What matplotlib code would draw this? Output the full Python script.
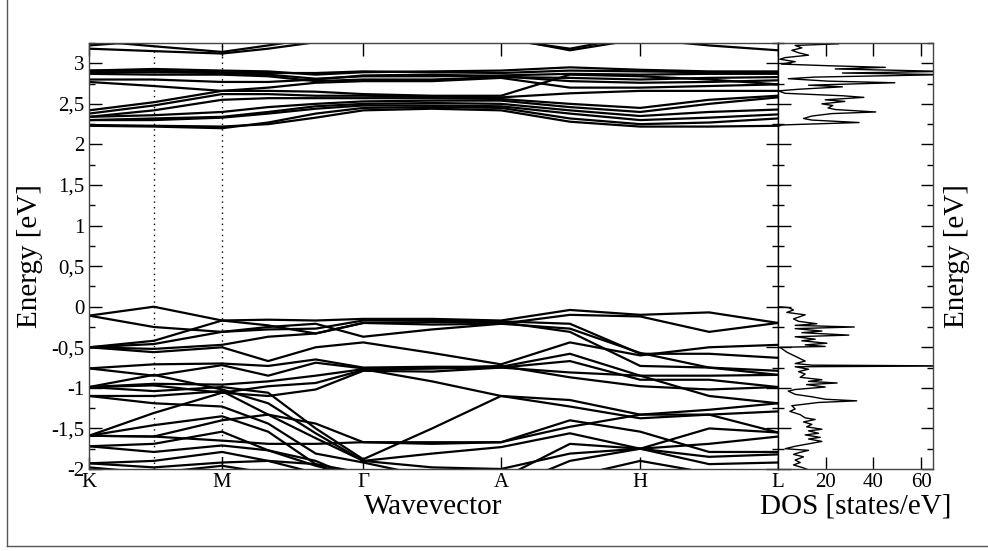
"""
Band structure along K-M-G-A-H-L with the total DOS panel on the right.
Values read off the reference figure (energies in eV, DOS in states/eV).
"""

import matplotlib
matplotlib.use("Agg")
import matplotlib.pyplot as plt
from matplotlib import ticker
from matplotlib.lines import Line2D


# High symmetry points on the path (fraction of the path length)
KPOINT_LABELS = ["K", "M", "\u0393", "A", "H", "L"]
KPOINT_POS = [0.0, 0.193, 0.398, 0.598, 0.800, 1.0]

# Positions where band energies were read (K, K-M half, M, 2x M-G, G, G-A, A, A-H, H, H-L, L)
K_SAMPLES = [0.0, 0.094, 0.193, 0.260, 0.329, 0.398, 0.498, 0.598, 0.698, 0.800, 0.900, 1.0]

# Extra dotted guide lines
DOTTED_POS = [0.094, 0.193]

# Conduction bands
CB_01 = [3.22, 3.28, 3.36, 3.42, 3.46, 3.48, 3.48, 3.45, 3.38, 3.30, 3.22, 3.16]
CB_02 = [3.18, 3.15, 3.12, 3.18, 3.26, 3.33, 3.36, 3.32, 3.16, 3.30, 3.38, 3.42]
CB_03 = [3.28, 3.21, 3.14, 3.22, 3.31, 3.38, 3.38, 3.30, 3.18, 3.34, 3.44, 3.48]
CB_04 = [2.91, 2.93, 2.91, 2.90, 2.86, 2.89, 2.90, 2.91, 2.95, 2.92, 2.90, 2.90]
CB_05 = [2.91, 2.91, 2.89, 2.88, 2.88, 2.90, 2.89, 2.88, 2.91, 2.90, 2.89, 2.89]
CB_06 = [2.89, 2.89, 2.88, 2.86, 2.81, 2.84, 2.84, 2.85, 2.87, 2.86, 2.87, 2.87]
CB_07 = [2.87, 2.86, 2.86, 2.84, 2.78, 2.80, 2.80, 2.83, 2.82, 2.80, 2.82, 2.83]
CB_08 = [2.80, 2.80, 2.77, 2.77, 2.80, 2.85, 2.86, 2.84, 2.78, 2.76, 2.77, 2.79]
CB_09 = [2.77, 2.72, 2.66, 2.70, 2.76, 2.78, 2.78, 2.82, 2.70, 2.70, 2.72, 2.74]
CB_10 = [2.42, 2.52, 2.66, 2.66, 2.65, 2.62, 2.60, 2.60, 2.86, 2.84, 2.80, 2.74]
CB_11 = [2.38, 2.48, 2.62, 2.62, 2.60, 2.60, 2.59, 2.58, 2.63, 2.66, 2.66, 2.66]
CB_12 = [2.34, 2.42, 2.55, 2.57, 2.57, 2.57, 2.57, 2.56, 2.50, 2.45, 2.55, 2.60]
CB_13 = [2.34, 2.36, 2.40, 2.46, 2.50, 2.53, 2.54, 2.54, 2.46, 2.40, 2.50, 2.58]
CB_14 = [2.30, 2.32, 2.34, 2.40, 2.47, 2.50, 2.51, 2.50, 2.42, 2.35, 2.40, 2.43]
CB_15 = [2.30, 2.30, 2.33, 2.38, 2.44, 2.48, 2.48, 2.47, 2.38, 2.30, 2.33, 2.37]
CB_16 = [2.23, 2.22, 2.20, 2.27, 2.38, 2.45, 2.46, 2.45, 2.32, 2.25, 2.27, 2.32]
CB_17 = [2.24, 2.23, 2.22, 2.25, 2.33, 2.42, 2.44, 2.42, 2.28, 2.22, 2.22, 2.23]

# Valence bands
VB_01 = [-0.11, 0.00, -0.17, -0.16, -0.17, -0.15, -0.15, -0.17, -0.04, -0.10, -0.07, -0.20]
VB_02 = [-0.11, -0.25, -0.31, -0.25, -0.21, -0.37, -0.28, -0.21, -0.10, -0.12, -0.31, -0.20]
VB_03 = [-0.50, -0.46, -0.31, -0.28, -0.27, -0.17, -0.17, -0.18, -0.21, -0.58, -0.58, -0.63]
VB_04 = [-0.50, -0.52, -0.47, -0.37, -0.33, -0.20, -0.19, -0.19, -0.31, -0.73, -0.75, -0.79]
VB_05 = [-0.50, -0.56, -0.50, -0.67, -0.50, -0.44, -0.57, -0.71, -0.44, -0.60, -0.50, -0.47]
VB_06 = [-0.76, -0.71, -0.70, -0.73, -0.65, -0.75, -0.74, -0.74, -0.58, -0.85, -0.85, -0.84]
VB_07 = [-0.76, -0.85, -0.72, -0.85, -0.69, -0.76, -0.76, -0.75, -0.67, -0.90, -0.90, -0.99]
VB_08 = [-0.99, -0.95, -0.96, -0.92, -0.85, -0.77, -0.92, -1.10, -1.15, -1.33, -1.27, -1.19]
VB_09 = [-0.99, -1.04, -0.99, -1.06, -1.50, -1.88, -1.50, -1.10, -1.23, -1.375, -1.33, -1.29]
VB_10 = [-0.99, -0.84, -1.02, -1.19, -1.56, -1.90, -1.81, -1.73, -1.56, -1.75, -1.50, -1.55]
VB_11 = [-1.10, -1.10, -1.04, -1.33, -1.62, -1.90, -1.98, -2.00, -1.81, -1.75, -1.85, -1.82]
VB_12 = [-1.10, -1.19, -1.23, -1.44, -1.81, -1.92, -2.10, -2.12, -1.69, -1.75, -1.69, -1.60]
VB_13 = [-1.59, -1.31, -1.06, -0.98, -0.94, -0.78, -0.76, -0.73, -0.87, -0.98, -1.02, -0.99]
VB_14 = [-1.59, -1.60, -1.65, -1.69, -1.69, -1.67, -1.67, -1.67, -1.40, -1.54, -1.79, -1.79]
VB_15 = [-1.59, -1.46, -1.35, -1.54, -1.94, -2.05, -2.20, -2.25, -1.90, -1.75, -1.94, -1.92]
VB_16 = [-1.72, -1.69, -1.54, -1.77, -1.96, -2.10, -2.30, -2.30, -2.10, -1.90, -2.05, -2.10]
VB_17 = [-1.72, -1.79, -1.71, -1.77, -1.90, -2.15, -2.30, -2.30, -2.20, -2.10, -2.20, -2.20]
VB_18 = [-1.93, -1.90, -1.79, -1.90, -2.05, -2.25, -2.40, -2.40, -2.40, -2.40, -2.40, -2.40]
VB_19 = [-1.93, -1.98, -1.92, -1.90, -1.94, -2.20, -2.40, -2.40, -2.40, -2.40, -2.40, -2.40]
VB_20 = [-1.98, -2.05, -1.96, -2.05, -2.15, -2.30, -2.40, -2.40, -2.40, -2.40, -2.40, -2.40]
VB_21 = [-0.50, -0.42, -0.17, -0.23, -0.33, -0.20, -0.22, -0.21, -0.27, -0.57, -0.75, -0.84]
VB_22 = [-0.99, -0.97, -1.06, -1.10, -1.02, -0.79, -0.80, -0.75, -0.81, -0.85, -1.10, -1.19]
VB_23 = [-1.59, -1.60, -1.40, -1.33, -1.44, -1.67, -1.69, -1.67, -1.48, -1.33, -1.33, -1.55]

CONDUCTION_BANDS = [CB_01, CB_02, CB_03, CB_04, CB_05, CB_06, CB_07, CB_08, CB_09,
                    CB_10, CB_11, CB_12, CB_13, CB_14, CB_15, CB_16, CB_17]
VALENCE_BANDS = [VB_01, VB_02, VB_03, VB_04, VB_05, VB_06, VB_07, VB_08, VB_09, VB_10,
                 VB_11, VB_12, VB_13, VB_14, VB_15, VB_16, VB_17, VB_18, VB_19, VB_20,
                 VB_21, VB_22, VB_23]

# Density of states (energy in eV, value in states/eV)
DOS_ENERGY = [
    3.28, 3.24, 3.22, 3.19, 3.16, 3.13, 3.10, 3.07, 3.05, 3.02, 2.99, 2.97, 2.95, 2.93,
    2.90, 2.88, 2.86, 2.83, 2.81, 2.78, 2.76, 2.73, 2.71, 2.68, 2.66, 2.63, 2.60, 2.58,
    2.55, 2.53, 2.50, 2.48, 2.45, 2.43, 2.40, 2.38, 2.35, 2.32, 2.30, 2.27, 2.24, 2.22,
    2.21, 0.00,
    -0.01, -0.04, -0.07, -0.10, -0.15, -0.18, -0.21, -0.23, -0.25, -0.27, -0.30, -0.32,
    -0.35, -0.37, -0.40, -0.42, -0.45, -0.47, -0.49, -0.50, -0.56, -0.62, -0.67, -0.70,
    -0.72, -0.73, -0.74, -0.77, -0.80, -0.83, -0.87, -0.90, -0.92, -0.94, -0.96, -0.99,
    -1.02, -1.04, -1.08, -1.11, -1.14, -1.16, -1.18, -1.22, -1.26, -1.29, -1.33, -1.37,
    -1.39, -1.42, -1.45, -1.48, -1.51, -1.53, -1.56, -1.58, -1.61, -1.63, -1.66, -1.69,
    -1.72, -1.75, -1.77, -1.80, -1.82, -1.85, -1.89, -1.92, -1.95, -1.98, -2.01,
]
DOS_VALUE = [
    22.6, 25.5, 7.2, 10.0, 5.8, 8.6, 12.8, 3.0, 0.8, 7.2, 1.5, 21.0, 45.0, 24.0,
    70.0, 27.0, 70.0, 15.6, 4.3, 21.0, 49.0, 12.8, 27.0, 8.6, 0.1, 3.0, 27.0, 36.0,
    19.8, 28.0, 18.4, 23.0, 21.0, 24.0, 41.0, 22.6, 14.2, 10.7, 14.2, 34.0, 1.5, 0.0,
    0.0, 0.0,
    4.3, 6.5, 3.7, 11.4, 6.5, 8.6, 16.3, 7.2, 32.0, 7.2, 18.4, 10.0,
    29.7, 7.2, 15.6, 10.0, 20.5, 11.4, 19.8, 0.8, 3.7, 7.9, 11.4, 7.2,
    14.2, 75.0, 7.2, 12.8, 8.6, 11.4, 9.3, 18.4, 12.8, 24.8, 12.0, 19.8,
    7.2, 4.3, 7.2, 14.2, 19.8, 33.0, 17.0, 5.8, 7.2, 5.0, 9.3, 11.4,
    15.6, 10.7, 14.2, 12.0, 18.4, 12.8, 17.0, 11.4, 17.7, 12.8, 18.4, 12.8,
    7.2, 3.0, 12.8, 8.6, 6.5, 10.7, 7.2, 9.3, 6.5, 10.0, 12.8,
]

DOS_TICKS = [20, 40, 60]


# Decimal comma labels like "2,5" and "-0,5"
def comma_label(value: float, pos: int) -> str:
    return ("%g" % round(value, 2)).replace(".", ",")


# Shared look of the inward ticks
def style_ticks(ax) -> None:
    ax.yaxis.set_major_locator(ticker.MultipleLocator(0.5))
    ax.yaxis.set_minor_locator(ticker.MultipleLocator(0.25))
    ax.tick_params(which="major", direction="in", length=9, width=1.0,
                   top=True, right=True, labelsize=15, pad=3)
    ax.tick_params(which="minor", direction="in", length=4, width=1.0,
                   top=False, right=True)
    for spine in ax.spines.values():
        spine.set_linewidth(1.0)
        spine.set_color("#444444")


# Draw the bands panel
def plot_bands(ax) -> None:
    for band in CONDUCTION_BANDS + VALENCE_BANDS:
        ax.plot(K_SAMPLES, band, color="black", linewidth=1.6, solid_joinstyle="round")
    for x in DOTTED_POS:
        ax.axvline(x, color="black", linestyle=(0, (1, 3)), linewidth=1.0)
    ax.set_xlim(KPOINT_POS[0], KPOINT_POS[-1])
    ax.set_ylim(-2.0, 3.25)
    style_ticks(ax)
    ax.set_xticks(KPOINT_POS)
    ax.set_xticklabels(KPOINT_LABELS)
    ax.yaxis.set_major_formatter(ticker.FuncFormatter(comma_label))
    ax.set_xlabel("Wavevector", fontsize=21, labelpad=1)
    ax.set_ylabel("Energy [eV]", fontsize=21, labelpad=6)


# Draw the DOS panel
def plot_dos(ax) -> None:
    ax.plot(DOS_VALUE, DOS_ENERGY, color="black", linewidth=1.0)
    ax.set_xlim(0, 65)
    style_ticks(ax)
    ax.set_xticks(DOS_TICKS)
    ax.tick_params(axis="y", labelleft=False)
    ax.spines["left"].set_color("black")
    ax.set_xlabel("DOS [states/eV]", fontsize=21, labelpad=1)
    ax.yaxis.set_label_position("right")
    ax.set_ylabel("Energy [eV]", fontsize=21, labelpad=8)


# Thin page border on the left and bottom
def draw_page_border(fig) -> None:
    fig.add_artist(Line2D([7 / 988, 7 / 988], [5 / 551, 1.0], color="#555555", linewidth=1.0))
    fig.add_artist(Line2D([7 / 988, 1.0], [5 / 551, 5 / 551], color="#555555", linewidth=1.0))


def main() -> None:
    plt.rcParams["font.family"] = ["Liberation Serif", "DejaVu Serif"]
    fig = plt.figure(figsize=(9.88, 5.51), dpi=100)
    ax_bands = fig.add_axes([89 / 988, 82 / 551, 689 / 988, 426 / 551])
    ax_dos = fig.add_axes([778 / 988, 82 / 551, 155 / 988, 426 / 551], sharey=ax_bands)
    plot_bands(ax_bands)
    plot_dos(ax_dos)
    ax_bands.spines["right"].set_color("black")
    draw_page_border(fig)
    fig.savefig("out.png", dpi=100)
    plt.close(fig)


if __name__ == "__main__":
    main()
